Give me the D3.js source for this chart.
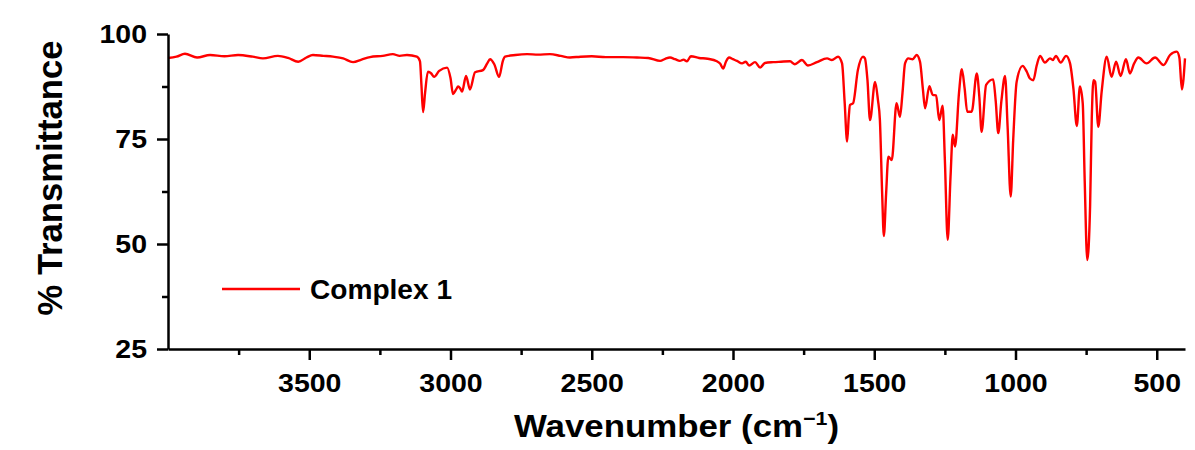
<!DOCTYPE html>
<html>
<head>
<meta charset="utf-8">
<script src="https://cdn.jsdelivr.net/npm/d3@7"></script>
<style>
  body { margin: 0; background: #fff; }
  text { font-family: "Liberation Sans", Arial, sans-serif; font-weight: bold; fill: #000; }
</style>
</head>
<body>
<div id="chart"></div>
<script>
// Spectrum readings (wavenumber in cm-1, % transmittance)
const wavenumber = [
  4000, 3970, 3940, 3897, 3851, 3800, 3752, 3700, 3664, 3611, 3575, 3539, 3510, 3487, 3450, 3416,
  3380, 3345, 3315, 3285, 3240, 3204, 3180, 3154, 3119, 3108, 3103, 3097, 3090, 3080, 3068, 3058,
  3040, 3012, 3000, 2991, 2980, 2973, 2966, 2959, 2945, 2931, 2913, 2885, 2870, 2860, 2845, 2828,
  2815, 2807, 2770, 2729, 2690, 2648, 2610, 2577, 2540, 2500, 2450, 2389, 2340, 2300, 2258, 2240,
  2223, 2205, 2188, 2175, 2163, 2149, 2120, 2090, 2057, 2045, 2035, 2025, 2014, 2000, 1986, 1968,
  1955, 1943, 1922, 1904, 1887, 1858, 1830, 1798, 1781, 1756, 1735, 1703, 1667, 1650, 1628, 1614,
  1605, 1596, 1590, 1586, 1575, 1558, 1540, 1533, 1524, 1515, 1497, 1487, 1480, 1472, 1466, 1458,
  1450, 1438, 1421, 1409, 1400, 1391, 1379, 1364, 1350, 1338, 1328, 1320, 1305, 1293, 1281, 1270,
  1258, 1250, 1240, 1230, 1222, 1214, 1200, 1190, 1180, 1171, 1155, 1137, 1128, 1120, 1104, 1079,
  1070, 1061, 1050, 1037, 1028, 1017, 1008, 996, 975, 960, 949, 937, 925, 913, 896, 878,
  868, 857, 840, 821, 807, 795, 783, 772, 762, 755, 746, 736, 730, 724, 718, 707,
  695, 677, 660, 644, 628, 609, 595, 580, 565, 536, 506, 476, 453, 429, 420, 411, 400
];
const transmittance = [
  94.3, 94.6, 95.3, 94.4, 95.0, 94.7, 95.0, 94.6, 94.2, 94.8, 94.3, 93.4, 94.4, 95.0, 94.8, 94.6,
  94.2, 93.3, 93.9, 94.5, 94.8, 95.2, 94.8, 95.0, 94.6, 93.5, 88.0, 81.4, 86.0, 91.0, 90.6, 89.8,
  91.2, 92.0, 89.5, 85.7, 86.8, 87.5, 87.1, 86.3, 90.0, 86.8, 90.9, 91.4, 93.0, 94.0, 92.8, 89.8,
  93.5, 94.6, 95.0, 95.2, 95.1, 95.2, 94.8, 94.4, 94.6, 94.7, 94.5, 94.5, 94.4, 94.3, 93.6, 94.1,
  94.4, 94.0, 93.6, 93.9, 93.5, 94.7, 94.3, 94.1, 93.5, 92.9, 91.8, 93.4, 94.4, 94.0, 93.6, 93.0,
  93.4, 92.5, 93.3, 92.0, 93.1, 93.3, 93.4, 93.5, 92.8, 93.8, 92.5, 93.3, 94.2, 93.8, 94.6, 93.0,
  84.0, 74.4, 80.5, 83.1, 83.5, 91.4, 94.6, 94.2, 89.0, 79.5, 88.6, 84.3, 79.5, 62.0, 51.9, 62.0,
  70.8, 70.0, 83.5, 80.3, 86.0, 93.0, 94.2, 94.0, 95.0, 93.4, 87.0, 82.3, 87.6, 85.5, 85.4, 79.5,
  82.9, 70.0, 51.0, 66.0, 76.0, 73.2, 86.0, 91.6, 87.0, 81.5, 81.5, 90.6, 85.0, 76.7, 87.9, 89.2,
  84.0, 76.4, 84.0, 90.0, 78.0, 61.3, 75.0, 88.6, 92.4, 91.0, 89.4, 89.0, 92.5, 94.8, 93.2, 94.2,
  93.8, 94.8, 93.2, 94.8, 93.0, 87.0, 78.1, 87.5, 83.5, 65.0, 46.2, 58.9, 80.0, 89.0, 88.6, 77.9,
  86.3, 94.6, 89.8, 93.4, 90.0, 94.0, 90.6, 93.0, 94.4, 93.0, 94.4, 92.6, 95.0, 95.8, 94.4, 86.8, 94.2
];

const xMajorTicks = [3500, 3000, 2500, 2000, 1500, 1000, 500];
const xMinorTicks = [3750, 3250, 2750, 2250, 1750, 1250, 750];
const yMajorTicks = [25, 50, 75, 100];
const yMinorTicks = [37.5, 62.5, 87.5];
const seriesName = "Complex 1";

const width = 1195;
const height = 450;
const plotLeft = 168, plotRight = 1185, plotTop = 34, plotBottom = 349;
const stretch = 1.14; // labels in the picture are a bit wide

const data = wavenumber.map((w, i) => ({ w: w, t: transmittance[i] }));

const svg = d3.select("#chart")
  .append("svg")
  .attr("width", width)
  .attr("height", height);

const x = d3.scaleLinear().domain([4000, 400]).range([plotLeft, plotRight]);
const y = d3.scaleLinear().domain([25, 100]).range([plotBottom, plotTop]);

// widen text the way the picture shows
function widen(sel) {
  sel.each(function () {
    const len = this.getComputedTextLength();
    d3.select(this)
      .attr("textLength", len * stretch)
      .attr("lengthAdjust", "spacingAndGlyphs");
  });
}

// Spectrum
const line = d3.line()
  .x((d) => x(d.w))
  .y((d) => y(d.t))
  .curve(d3.curveMonotoneX);

svg.append("path")
  .datum(data)
  .attr("d", line)
  .attr("fill", "none")
  .attr("stroke", "#ff0000")
  .attr("stroke-width", 2.4)
  .attr("stroke-linejoin", "round");

// X axis
const xAxis = svg.append("g")
  .attr("transform", `translate(0,${plotBottom})`)
  .call(d3.axisBottom(x).tickValues(xMajorTicks).tickFormat(d3.format("d"))
    .tickSize(11).tickSizeOuter(0).tickPadding(14));

svg.append("g")
  .attr("transform", `translate(0,${plotBottom})`)
  .call(d3.axisBottom(x).tickValues(xMinorTicks).tickSize(6).tickSizeOuter(0).tickFormat(""))
  .select(".domain").remove();

// Y axis
const yAxis = svg.append("g")
  .attr("transform", `translate(${plotLeft},0)`)
  .call(d3.axisLeft(y).tickValues(yMajorTicks).tickFormat(d3.format("d"))
    .tickSize(11).tickSizeOuter(0).tickPadding(10));

svg.append("g")
  .attr("transform", `translate(${plotLeft},0)`)
  .call(d3.axisLeft(y).tickValues(yMinorTicks).tickSize(6).tickSizeOuter(0).tickFormat(""))
  .select(".domain").remove();

svg.selectAll(".domain, .tick line")
  .attr("stroke", "#000")
  .attr("stroke-width", 2.5);

svg.selectAll(".tick text")
  .style("font-size", "25px")
  .attr("fill", "#000");
widen(xAxis.selectAll(".tick text"));
widen(yAxis.selectAll(".tick text"));

// X axis title
const xTitle = svg.append("text")
  .attr("x", (plotLeft + plotRight) / 2)
  .attr("y", 437)
  .attr("text-anchor", "middle")
  .style("font-size", "31px");
xTitle.append("tspan").text("Wavenumber (cm");
xTitle.append("tspan")
  .attr("dy", -12)
  .style("font-size", "19px")
  .text("\u22121");
xTitle.append("tspan")
  .attr("dy", 12)
  .text(")");
xTitle.attr("textLength", 325).attr("lengthAdjust", "spacingAndGlyphs");

// Y axis title
svg.append("g")
  .attr("transform", `translate(62,178) scale(${stretch},1) rotate(-90)`)
  .append("text")
  .attr("text-anchor", "middle")
  .style("font-size", "30px")
  .attr("textLength", 275)
  .attr("lengthAdjust", "spacingAndGlyphs")
  .text("% Transmittance");

// Legend
svg.append("line")
  .attr("x1", 222)
  .attr("x2", 300)
  .attr("y1", 289)
  .attr("y2", 289)
  .attr("stroke", "#ff0000")
  .attr("stroke-width", 2.4);

svg.append("text")
  .attr("x", 310)
  .attr("y", 299)
  .style("font-size", "27px")
  .attr("textLength", 142)
  .attr("lengthAdjust", "spacingAndGlyphs")
  .text(seriesName);
</script>
</body>
</html>
